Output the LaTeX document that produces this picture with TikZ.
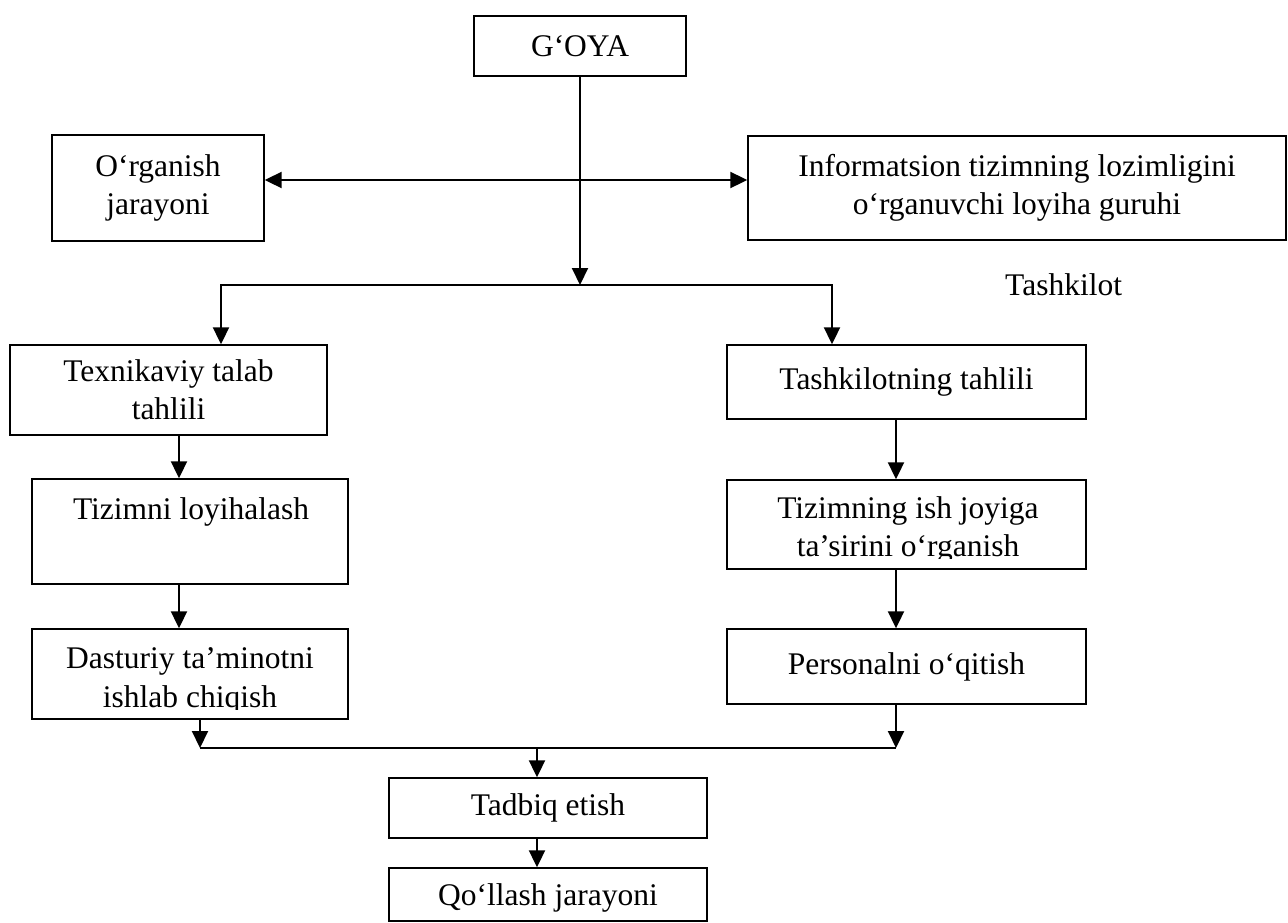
\documentclass[tikz,border=0pt]{standalone}
\usepackage{fontspec}
\setmainfont{Liberation Serif}
\usetikzlibrary{arrows.meta}
\begin{document}
\begin{tikzpicture}[x=1pt,y=-1pt,
  every node/.style={font=\fontsize{31.5}{38}\selectfont, inner sep=0pt},
  box/.style={draw, line width=1.4pt, align=center},
  conn/.style={line width=2pt, -{Triangle[length=17pt,width=16pt]}},
  dbl/.style={line width=2pt, {Triangle[length=17pt,width=16pt]}-{Triangle[length=17pt,width=16pt]}},
  plain/.style={line width=2pt},
  lbl/.style={anchor=base}]
\useasboundingbox (0,0) rectangle (1288,922);

% top: idea, study process and project group
\node[box, minimum width=212pt, minimum height=60pt] (goya) at (580,46) {G‘OYA};
\node[box, minimum width=212pt, minimum height=106pt] (org) at (158,188) {O‘rganish\\jarayoni};
\node[box, minimum width=538pt, minimum height=104pt] (info) at (1017,188)
  {Informatsion tizimning lozimligini\\o‘rganuvchi loyiha guruhi};
\node[anchor=base west] (tash) at (1005,295) {Tashkilot};

% left column
\node[box, minimum width=317pt, minimum height=90pt] (tex) at (168.5,390) {Texnikaviy talab\\tahlili};
\node[box, minimum width=316pt, minimum height=105pt] (tiz) at (190,531.5) {};
\node[lbl] (tiztxt) at (191,519) {Tizimni loyihalash};
\node[box, minimum width=316pt, minimum height=90pt] (das) at (190,674) {};
\begin{scope}
  \clip (32,629) rectangle (348,709);
  \node[lbl] (dasA) at (190,668) {Dasturiy ta’minotni};
  \node[lbl] (dasB) at (190,707) {ishlab chiqish};
\end{scope}

% right column
\node[box, minimum width=359pt, minimum height=74pt] (tah) at (906.5,382) {Tashkilotning tahlili};
\node[box, minimum width=359pt, minimum height=89pt] (ish) at (906.5,524.5) {};
\begin{scope}
  \clip (727,480) rectangle (1086,558);
  \node[lbl] (ishA) at (908,518) {Tizimning ish joyiga};
  \node[lbl] (ishB) at (908,556) {ta’sirini o‘rganish};
\end{scope}
\node[box, minimum width=359pt, minimum height=75pt] (per) at (906.5,666.5) {Personalni o‘qitish};

% bottom
\node[box, minimum width=318pt, minimum height=60pt] (tad) at (548,808) {Tadbiq etish};
\node[box, minimum width=318pt, minimum height=53pt] (qol) at (548,894.5) {};
\node[lbl] (qoltxt) at (548,905) {Qo‘llash jarayoni};

% junction points and connector columns
\coordinate (split) at (580,285);
\coordinate (mL) at (200,748);
\coordinate (mR) at (896,748);
\coordinate (merge) at (537,748);
\coordinate (xA) at (221,0);
\coordinate (xB) at (832,0);
\coordinate (xL) at (179,0);
\coordinate (xR) at (896,0);
\coordinate (yH) at (0,180);

\draw[conn] (goya) -- (split);
\draw[dbl] (org.east |- yH) -- (info.west |- yH);
\draw[conn] (split) -| (tex.north -| xA);
\draw[conn] (split) -| (tah.north -| xB);

\draw[conn] (tex.south -| xL) -- (tiz.north -| xL);
\draw[conn] (tiz.south -| xL) -- (das.north -| xL);
\draw[conn] (das.south -| mL) -- (mL);

\draw[conn] (tah.south -| xR) -- (ish.north -| xR);
\draw[conn] (ish.south -| xR) -- (per.north -| xR);
\draw[conn] (per.south -| mR) -- (mR);

\draw[plain] (mL) -- (mR);
\draw[conn] (merge) -- (tad.north -| merge);
\draw[conn] (tad.south -| merge) -- (qol.north -| merge);
\end{tikzpicture}
\end{document}
